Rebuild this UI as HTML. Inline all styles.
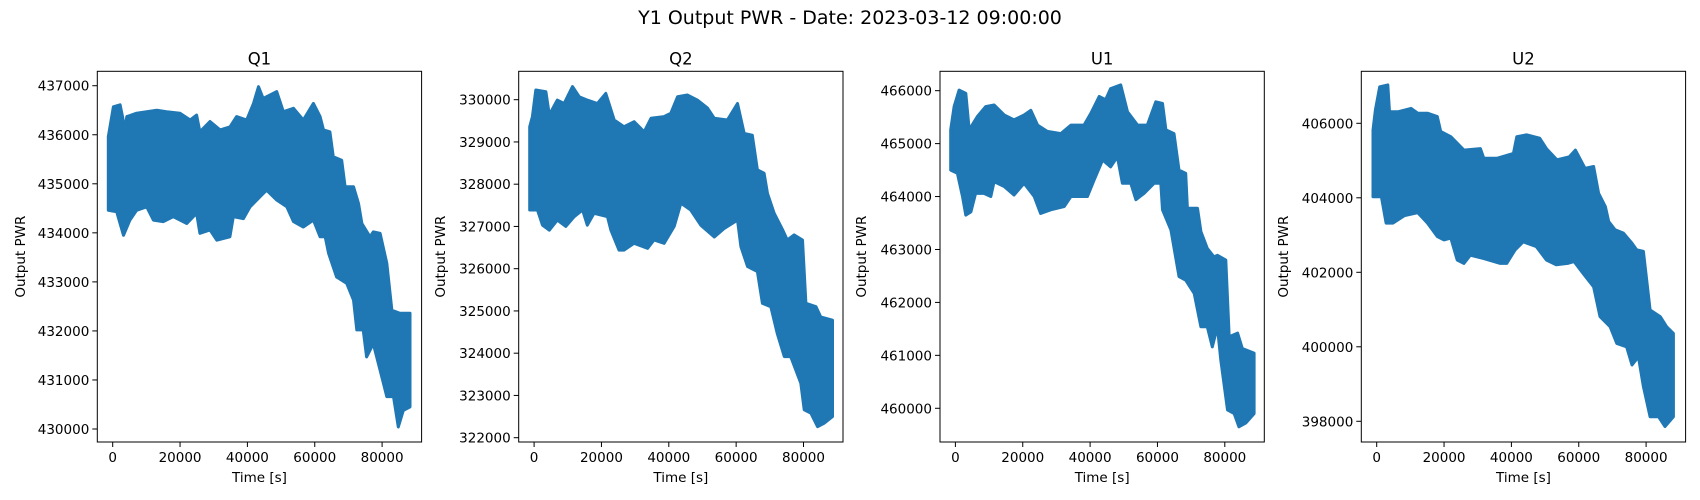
<!DOCTYPE html>
<html><head><meta charset="utf-8">
<style>
html,body{margin:0;padding:0;background:#fff;}
svg{display:block;font-family:"DejaVu Sans","Liberation Sans",sans-serif;}
</style></head>
<body>
<svg id="fig" width="1700" height="500" viewBox="0 0 1700 500">
<rect x="0" y="0" width="1700" height="500" fill="#fff"/>
<text x="850" y="24" text-anchor="middle" font-size="19" fill="#000">Y1 Output PWR - Date: 2023-03-12 09:00:00</text>
</svg>
<script>
// ---- data (time [s], Output PWR) ----
const xTicks = [0, 20000, 40000, 60000, 80000];
const panelTitles = ["Q1", "Q2", "U1", "U2"];

const q1UpT = [-1300,200,2200,3700,4200,7100,10100,13100,16000,20000,23000,24900,25900,28900,31900,34800,36800,39800,41800,43300,44700,48700,50700,53700,56600,59600,61600,62600,64500,65500,68000,69000,71500,73000,74000,76400,77400,79400,81400,82900,85300,88300];
const q1UpV = [435960,436570,436610,436100,436370,436440,436470,436500,436470,436440,436300,436400,436060,436270,436100,436160,436370,436300,436640,436980,436740,436880,436470,436540,436300,436640,436370,436100,436060,435550,435480,434940,434940,434600,434190,433920,434020,433990,433380,432420,432360,432360];
const q1LoT = [-1300,1200,3200,5100,7100,10100,12100,15000,18000,22000,24900,25900,28900,30900,34800,35800,38800,40800,43800,45700,48700,51700,53700,56600,59600,61600,63100,64100,66500,69500,71500,72500,74400,75400,77400,79400,81400,83400,84800,86300,88300];
const q1LoV = [434460,434430,433950,434260,434460,434530,434260,434230,434330,434190,434400,433990,434060,433850,433920,434330,434290,434530,434740,434870,434670,434530,434230,434120,434260,433920,433920,433580,433100,432970,432630,432020,432020,431470,431740,431200,430660,430660,430040,430380,430450];

const q2UpT = [-1300,-500,500,3500,4500,6900,8900,11400,13400,15800,18800,21300,23800,26700,29700,32700,34700,38600,40600,42600,45500,48500,51500,53500,57400,60400,62400,64800,66300,68300,69300,71300,73800,75200,77200,79700,80700,83700,85100,88600];
const q2UpV = [329360,329600,330230,330190,329640,329990,329910,330310,330070,329990,329910,330150,329520,329360,329480,329240,329560,329600,329680,330070,330110,329990,329800,329560,329520,329910,329200,329160,328340,328260,327780,327310,326920,326680,326800,326680,325180,325100,324860,324780];
const q2LoT = [-1300,1000,2500,4500,6900,9400,11900,14400,15800,17800,21800,22800,25200,26700,29700,33700,35600,38600,41600,43600,46500,49500,53500,56400,60400,61400,63400,66300,67800,70300,72200,74300,76200,79200,80200,82200,84200,86100,88600];
const q2LoV = [327390,327390,327030,326910,327150,327000,327230,327390,327030,327310,327230,326910,326440,326440,326600,326480,326680,326600,327000,327550,327390,327030,326750,326950,327150,326520,326050,325930,325180,325100,324470,323920,323920,323290,322660,322580,322260,322340,322500];

const u1UpT = [-1400,-400,1100,3100,4100,6500,9000,11500,14500,17400,20400,22400,24400,27300,31300,34300,38200,40200,42700,44600,46100,49100,51100,54100,57000,59500,61500,62500,64900,66400,68400,68900,71900,72900,74800,76800,77800,80300,81300,83800,85200,88700];
const u1UpV = [465260,465700,466010,465950,465260,465510,465700,465730,465540,465450,465540,465630,465350,465230,465190,465350,465350,465570,465890,465830,466040,466110,465600,465350,465350,465790,465760,465260,465190,464500,464440,463780,463780,463340,463020,462860,462890,462800,461350,461420,461130,461040];
const u1LoT = [-1400,600,2100,3100,4600,6000,8500,10500,11500,14500,17400,20400,23400,25300,28300,32300,34300,39200,41200,43700,46100,48100,49600,52100,53600,56000,59000,61000,61500,64000,66400,68400,70900,72900,74800,76300,77800,78800,80800,82800,84200,86200,88700];
const u1LoV = [464500,464440,464000,463650,463710,464060,464060,464000,464280,464190,464030,464250,464000,463680,463750,463810,464000,464000,464310,464690,464560,464750,464250,464250,463940,464060,464250,464250,463750,463370,462490,462420,462170,461540,461540,461160,461540,460910,459970,459900,459650,459720,459900];

const u2UpT = [-1100,-400,900,3300,3800,6300,10200,12200,15100,18000,19000,22000,25900,30800,31800,35700,40600,41600,44500,48400,50400,53500,57200,59000,61900,64400,65900,67900,68900,70800,73300,75800,77200,79200,81200,84200,86100,88100];
const u2UpV = [405820,406360,406980,407030,406310,406310,406400,406270,406270,406180,405780,405640,405280,405320,405060,405060,405190,405640,405690,405600,405320,405020,405100,405280,404790,404840,404120,403760,403360,403140,403050,402780,402600,402560,400990,400810,400540,400360];
const u2LoT = [-1100,1400,2800,4800,8200,12200,15100,18000,20000,22000,23900,25900,27800,31800,36700,38600,41100,43500,47400,50400,53300,56700,58600,61300,64400,66300,69300,71300,74200,75800,77700,79200,81200,83700,85600,88100];
const u2LoV = [404030,404030,403320,403320,403520,403600,403320,402960,402870,402920,402330,402240,402460,402370,402240,402240,402600,402820,402690,402330,402200,402240,402290,401970,401610,400810,400540,400090,400000,399510,399730,398930,398120,398120,397860,398120];

const q1Ticks = [430000,431000,432000,433000,434000,435000,436000,437000];
const q2Ticks = [322000,323000,324000,325000,326000,327000,328000,329000,330000];
const u1Ticks = [460000,461000,462000,463000,464000,465000,466000];
const u2Ticks = [398000,400000,402000,404000,406000];

// ---- layout ----
const NS = "http://www.w3.org/2000/svg";
const fig = document.getElementById("fig");
const axLefts = [97.3, 518.7, 940, 1361.3];
const axW = 324.3, axTop = 71.3, axBot = 442;
const xMin = -4573, xMax = 91730;
const yDomains = [[429735,437294],[321898,330672],[459363,466366],[397444,407396]];
const ylabelX = [21, 441, 862, 1284];

function el(tag, attrs, parent){
  const e = document.createElementNS(NS, tag);
  for (const k in attrs) e.setAttribute(k, attrs[k]);
  (parent||fig).appendChild(e);
  return e;
}

const panels = [
  {key:"q1", upT:q1UpT, upV:q1UpV, loT:q1LoT, loV:q1LoV, ticks:q1Ticks},
  {key:"q2", upT:q2UpT, upV:q2UpV, loT:q2LoT, loV:q2LoV, ticks:q2Ticks},
  {key:"u1", upT:u1UpT, upV:u1UpV, loT:u1LoT, loV:u1LoV, ticks:u1Ticks},
  {key:"u2", upT:u2UpT, upV:u2UpV, loT:u2LoT, loV:u2LoV, ticks:u2Ticks}
];

panels.forEach((p, i) => {
  const L = axLefts[i], R = L + axW;
  const [y0, y1] = yDomains[i];
  const xs = t => L + (t - xMin) / (xMax - xMin) * axW;
  const ys = v => axBot - (v - y0) / (y1 - y0) * (axBot - axTop);

  const g = el("g", {});
  
  

  // data band
  let pts = [];
  for (let k = 0; k < p.upT.length; k++) pts.push(xs(p.upT[k]).toFixed(1) + "," + ys(p.upV[k]).toFixed(1));
  for (let k = p.loT.length - 1; k >= 0; k--) pts.push(xs(p.loT[k]).toFixed(1) + "," + ys(p.loV[k]).toFixed(1));
  const poly = el("polygon", {points: pts.join(" "), fill:"#1f77b4", stroke:"#1f77b4", "stroke-width":"3", "stroke-linejoin":"round"}, g);
  
  

  // frame
  const fr = el("rect", {x:L, y:axTop, width:axW, height:axBot-axTop, fill:"none", stroke:"#000", "stroke-width":"1"}, g);
  
  

  // x ticks
  xTicks.forEach(t => {
    const x = xs(t);
    el("line", {x1:x, y1:axBot, x2:x, y2:axBot+5, stroke:"#000", "stroke-width":"1"}, g);
    const tx = el("text", {x:x, y:axBot+20, "text-anchor":"middle", "font-size":"13.5", fill:"#000"}, g);
    tx.textContent = String(t);
    
    
  });
  // y ticks
  p.ticks.forEach(v => {
    const y = ys(v);
    el("line", {x1:L-5, y1:y, x2:L, y2:y, stroke:"#000", "stroke-width":"1"}, g);
    const ty = el("text", {x:L-8, y:y+5, "text-anchor":"end", "font-size":"13.5", fill:"#000"}, g);
    ty.textContent = String(v);
    
    
  });
  // titles
  const tt = el("text", {x:L+axW/2, y:axTop-7, "text-anchor":"middle", "font-size":"16.5", fill:"#000"}, g);
  tt.textContent = panelTitles[i];
  
  

  const xl = el("text", {x:L+axW/2, y:axBot+40, "text-anchor":"middle", "font-size":"13.5", fill:"#000"}, g);
  xl.textContent = "Time [s]";
  
  

  const cy = (axTop+axBot)/2;
  const yl = el("text", {x:ylabelX[i], y:cy, "text-anchor":"middle", "font-size":"13.5", fill:"#000", transform:"rotate(-90 "+(ylabelX[i])+" "+cy+")", "dominant-baseline":"central"}, g);
  yl.textContent = "Output PWR";
  
  
});
</script>
</body></html>
